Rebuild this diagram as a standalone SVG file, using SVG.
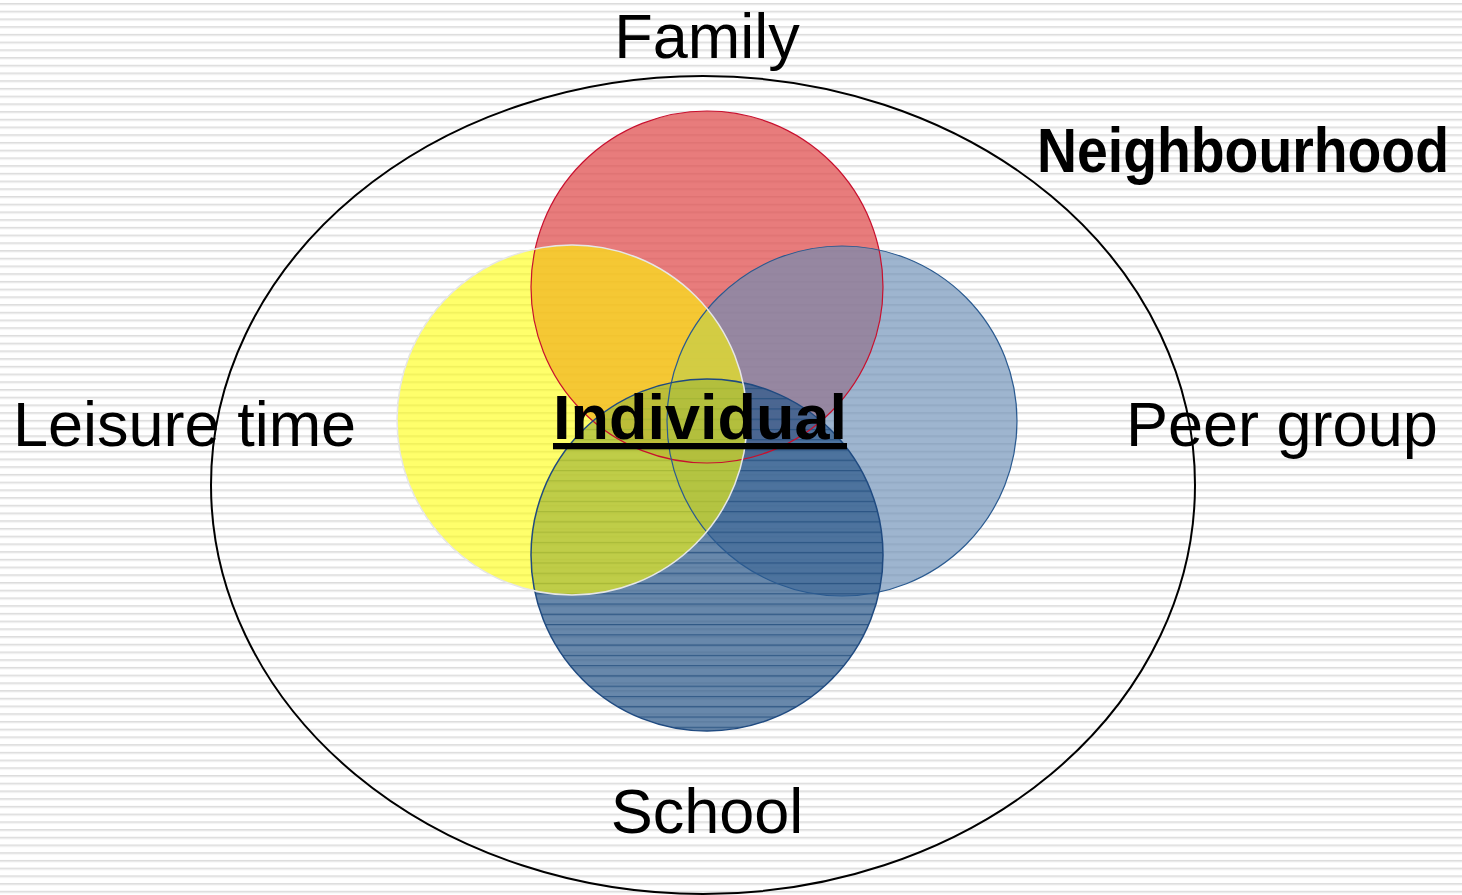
<svg xmlns="http://www.w3.org/2000/svg" width="1462" height="895" viewBox="0 0 1462 895">
<defs>
<pattern id="bg" patternUnits="userSpaceOnUse" x="0" y="3" width="20" height="7.72">
<rect x="0" y="0" width="20" height="7.72" fill="#ffffff"/>
<rect x="0" y="0" width="20" height="1" fill="#dcdcdc"/>
<rect x="0" y="1" width="20" height="1.2" fill="#e8e8e8"/>
</pattern>
<pattern id="schoolLines" patternUnits="userSpaceOnUse" x="0" y="603.5" width="20" height="10.27">
<rect x="0" y="0" width="20" height="1.2" fill="#234d7d" fill-opacity="0.8"/>
</pattern>
</defs>
<style>
.lbl{font-family:"Liberation Sans",Arial,sans-serif;font-size:63px;fill:#000}
.bold{font-weight:bold}
.ring{fill:none}
</style>
<rect x="0" y="0" width="1462" height="895" fill="url(#bg)"/>
<g id="neighbourhood">
<ellipse cx="703" cy="485" rx="492" ry="409" fill="none" stroke="#000" stroke-width="2"/>
<text class="lbl bold" x="1037" y="172" font-size="48" textLength="412" lengthAdjust="spacingAndGlyphs">Neighbourhood</text>
</g>
<g id="family">
<circle cx="707" cy="287" r="176" fill="#e05050" fill-opacity="0.75"/>
<text class="lbl" x="707" y="58" text-anchor="middle">Family</text>
</g>
<g id="peer-group">
<circle cx="842" cy="421" r="175" fill="#6a8db5" fill-opacity="0.65"/>
<text class="lbl" x="1126" y="446">Peer group</text>
</g>
<g id="school">
<circle cx="707" cy="555" r="176" fill="#2e5a8a" fill-opacity="0.72"/>
<circle cx="707" cy="555" r="176" fill="url(#schoolLines)"/>
<text class="lbl" x="707" y="833" text-anchor="middle">School</text>
</g>
<g id="leisure-time">
<circle cx="572" cy="420" r="175" fill="#ffff00" fill-opacity="0.58"/>
<text class="lbl" x="13" y="446">Leisure time</text>
</g>
<g id="outlines">
<circle class="ring" cx="707" cy="287" r="176" stroke="#c8102e" stroke-width="1.2"/>
<circle class="ring" cx="842" cy="421" r="175" stroke="#2a5a90" stroke-width="1.2"/>
<circle class="ring" cx="707" cy="555" r="176" stroke="#1f4a80" stroke-width="1.5"/>
<circle class="ring" cx="572" cy="420" r="175" stroke="#e6e6e6" stroke-width="1.5"/>
</g>
<g id="individual">
<text class="lbl bold" x="700" y="439" text-anchor="middle" text-decoration="underline">Individual</text>
</g>
<g id="connectors"/>
</svg>
